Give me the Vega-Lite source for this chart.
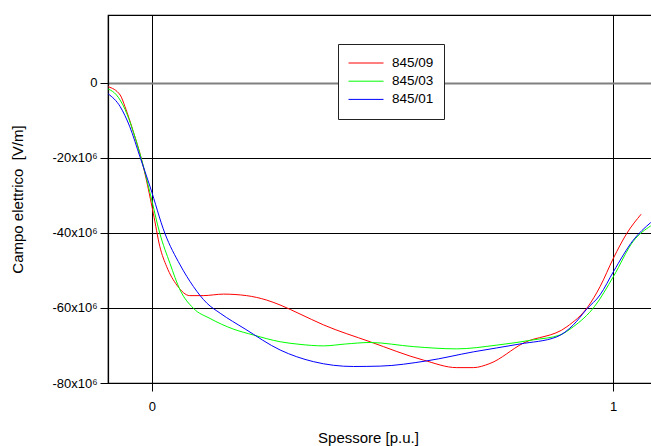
{
  "$schema": "https://vega.github.io/schema/vega-lite/v6.json",
  "width": 545,
  "height": 368,
  "autosize": {"type": "none"},
  "padding": {"left": 108, "top": 15, "right": 0, "bottom": 63},
  "background": "white",
  "config": {
    "font": "Liberation Sans",
    "view": {"stroke": "black", "strokeWidth": 1.2}
  },
  "data": {
    "values": [
      {"serie": "845/09", "x": -0.095, "y": -1.0},
      {"serie": "845/09", "x": -0.069, "y": -3.2},
      {"serie": "845/09", "x": -0.0586, "y": -6.3},
      {"serie": "845/09", "x": -0.0405, "y": -13.0},
      {"serie": "845/09", "x": -0.0224, "y": -20.5},
      {"serie": "845/09", "x": 0.003, "y": -34.8},
      {"serie": "845/09", "x": 0.017, "y": -43.6},
      {"serie": "845/09", "x": 0.032, "y": -49.0},
      {"serie": "845/09", "x": 0.054, "y": -53.9},
      {"serie": "845/09", "x": 0.082, "y": -56.7},
      {"serie": "845/09", "x": 0.111, "y": -56.7},
      {"serie": "845/09", "x": 0.155, "y": -56.3},
      {"serie": "845/09", "x": 0.205, "y": -56.7},
      {"serie": "845/09", "x": 0.249, "y": -57.9},
      {"serie": "845/09", "x": 0.280, "y": -59.3},
      {"serie": "845/09", "x": 0.321, "y": -61.6},
      {"serie": "845/09", "x": 0.372, "y": -64.5},
      {"serie": "845/09", "x": 0.473, "y": -69.0},
      {"serie": "845/09", "x": 0.589, "y": -73.9},
      {"serie": "845/09", "x": 0.661, "y": -75.9},
      {"serie": "845/09", "x": 0.697, "y": -75.9},
      {"serie": "845/09", "x": 0.733, "y": -74.8},
      {"serie": "845/09", "x": 0.805, "y": -69.4},
      {"serie": "845/09", "x": 0.9, "y": -65.0},
      {"serie": "845/09", "x": 0.946, "y": -59.6},
      {"serie": "845/09", "x": 0.972, "y": -54.3},
      {"serie": "845/09", "x": 1.001, "y": -46.7},
      {"serie": "845/09", "x": 1.03, "y": -40.1},
      {"serie": "845/09", "x": 1.061, "y": -35.0},
      {"serie": "845/03", "x": -0.095, "y": -1.6},
      {"serie": "845/03", "x": -0.077, "y": -3.2},
      {"serie": "845/03", "x": -0.0586, "y": -7.0},
      {"serie": "845/03", "x": -0.0405, "y": -13.0},
      {"serie": "845/03", "x": -0.0224, "y": -20.5},
      {"serie": "845/03", "x": -0.004, "y": -29.4},
      {"serie": "845/03", "x": 0.017, "y": -40.1},
      {"serie": "845/03", "x": 0.039, "y": -48.1},
      {"serie": "845/03", "x": 0.061, "y": -55.2},
      {"serie": "845/03", "x": 0.090, "y": -60.1},
      {"serie": "845/03", "x": 0.126, "y": -62.8},
      {"serie": "845/03", "x": 0.176, "y": -65.6},
      {"serie": "845/03", "x": 0.22, "y": -67.2},
      {"serie": "845/03", "x": 0.278, "y": -69.0},
      {"serie": "845/03", "x": 0.321, "y": -69.7},
      {"serie": "845/03", "x": 0.372, "y": -70.1},
      {"serie": "845/03", "x": 0.420, "y": -69.6},
      {"serie": "845/03", "x": 0.473, "y": -69.2},
      {"serie": "845/03", "x": 0.567, "y": -70.3},
      {"serie": "845/03", "x": 0.661, "y": -70.9},
      {"serie": "845/03", "x": 0.748, "y": -69.9},
      {"serie": "845/03", "x": 0.827, "y": -68.5},
      {"serie": "845/03", "x": 0.885, "y": -67.2},
      {"serie": "845/03", "x": 0.914, "y": -65.0},
      {"serie": "845/03", "x": 0.96, "y": -59.6},
      {"serie": "845/03", "x": 1.001, "y": -51.6},
      {"serie": "845/03", "x": 1.044, "y": -42.2},
      {"serie": "845/03", "x": 1.082, "y": -38.1},
      {"serie": "845/01", "x": -0.095, "y": -2.9},
      {"serie": "845/01", "x": -0.069, "y": -6.3},
      {"serie": "845/01", "x": -0.048, "y": -11.7},
      {"serie": "845/01", "x": -0.026, "y": -19.7},
      {"serie": "845/01", "x": -0.004, "y": -27.7},
      {"serie": "845/01", "x": 0.028, "y": -40.1},
      {"serie": "845/01", "x": 0.061, "y": -48.5},
      {"serie": "845/01", "x": 0.090, "y": -54.3},
      {"serie": "845/01", "x": 0.119, "y": -58.7},
      {"serie": "845/01", "x": 0.148, "y": -61.4},
      {"serie": "845/01", "x": 0.202, "y": -65.6},
      {"serie": "845/01", "x": 0.278, "y": -71.2},
      {"serie": "845/01", "x": 0.35, "y": -74.3},
      {"serie": "845/01", "x": 0.437, "y": -75.6},
      {"serie": "845/01", "x": 0.495, "y": -75.5},
      {"serie": "845/01", "x": 0.596, "y": -74.1},
      {"serie": "845/01", "x": 0.697, "y": -71.7},
      {"serie": "845/01", "x": 0.798, "y": -69.6},
      {"serie": "845/01", "x": 0.878, "y": -67.7},
      {"serie": "845/01", "x": 0.914, "y": -64.5},
      {"serie": "845/01", "x": 0.943, "y": -60.3},
      {"serie": "845/01", "x": 0.972, "y": -56.5},
      {"serie": "845/01", "x": 1.001, "y": -50.3},
      {"serie": "845/01", "x": 1.044, "y": -41.9},
      {"serie": "845/01", "x": 1.082, "y": -37.2}
    ]
  },
  "mark": {"type": "line", "interpolate": "monotone", "strokeWidth": 1, "clip": true},
  "encoding": {
    "x": {
      "field": "x",
      "type": "quantitative",
      "scale": {"domain": [-0.0954, 1.0868], "nice": false, "zero": false},
      "axis": {
        "title": "Spessore [p.u.]",
        "values": [0, 1],
        "format": "d",
        "grid": true,
        "gridColor": "black",
        "gridOpacity": 1,
        "gridWidth": 1,
        "domainColor": "black",
        "domainWidth": 1.2,
        "tickColor": "black",
        "tickSize": 8,
        "labelFontSize": 13,
        "labelColor": "black",
        "labelPadding": 9,
        "titleFontSize": 15,
        "titleFontWeight": "normal",
        "titleColor": "black",
        "titleX": 260,
        "titleY": 54,
        "titleBaseline": "middle"
      }
    },
    "y": {
      "field": "y",
      "type": "quantitative",
      "scale": {"domain": [-80, 18.13], "nice": false, "zero": false},
      "axis": {
        "title": "Campo elettrico \u00a0[V/m]",
        "values": [0, -20, -40, -60, -80],
        "labelExpr": "datum.value === 0 ? '0' : datum.value + 'x10⁶'",
        "grid": true,
        "gridColor": {"condition": {"test": "datum.value === 0", "value": "#808080"}, "value": "black"},
        "gridWidth": {"condition": {"test": "datum.value === 0", "value": 2}, "value": 1},
        "gridOpacity": 1,
        "domainColor": "black",
        "domainWidth": 1.2,
        "tickColor": "black",
        "tickSize": 8,
        "labelFontSize": 13,
        "labelColor": "black",
        "labelPadding": 3,
        "titleFontSize": 15,
        "titleFontWeight": "normal",
        "titleColor": "black",
        "titleX": -91,
        "titleY": 184,
        "titleAlign": "center",
        "titleBaseline": "middle"
      }
    },
    "color": {
      "field": "serie",
      "type": "nominal",
      "scale": {"domain": ["845/09", "845/03", "845/01"], "range": ["#ff0000", "#00ff00", "#0000ff"]},
      "legend": {
        "title": null,
        "orient": "none",
        "legendX": 230,
        "legendY": 29,
        "padding": 10,
        "strokeColor": "#222",
        "fillColor": "white",
        "symbolType": "stroke",
        "symbolSize": 1225,
        "symbolStrokeWidth": 1,
        "clipHeight": 18,
        "rowPadding": 0.2,
        "labelFontSize": 13.5,
        "labelColor": "black",
        "labelOffset": 8
      }
    }
  }
}
